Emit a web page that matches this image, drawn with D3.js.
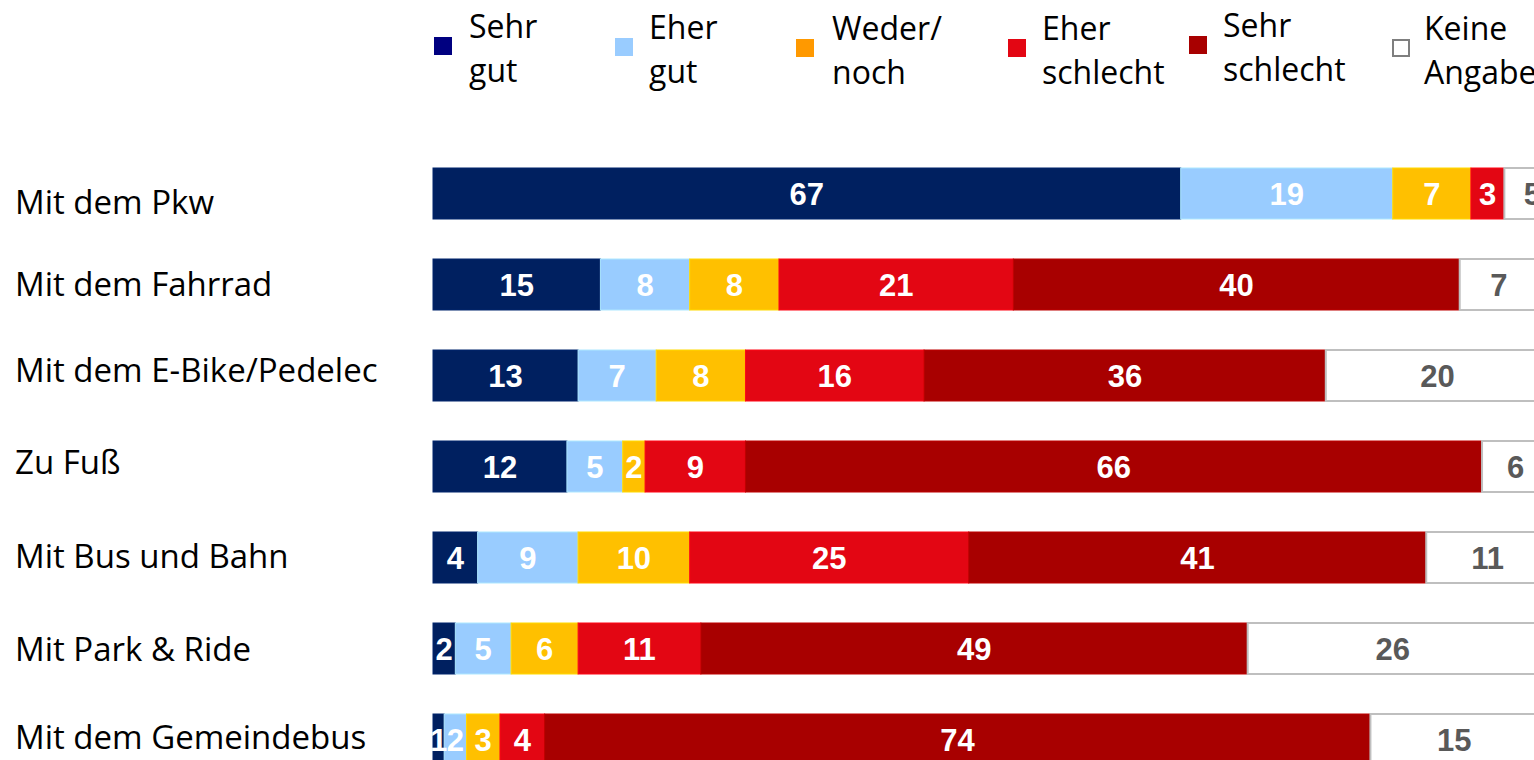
<!DOCTYPE html>
<html><head><meta charset="utf-8">
<script src="https://cdn.jsdelivr.net/npm/d3@7"></script>
<style>
html,body{margin:0;padding:0;background:#fff;overflow:hidden}
svg{display:block}
</style></head><body>
<svg id="chart" width="1534" height="760"></svg>
<script>
// ---- data ----
const categories = ["Mit dem Pkw","Mit dem Fahrrad","Mit dem E-Bike/Pedelec","Zu Fuß","Mit Bus und Bahn","Mit Park & Ride","Mit dem Gemeindebus"];
const seriesNames = ["Sehr gut","Eher gut","Weder/ noch","Eher schlecht","Sehr schlecht","Keine Angabe"];
const legendLines = [["Sehr","gut"],["Eher","gut"],["Weder/","noch"],["Eher","schlecht"],["Sehr","schlecht"],["Keine","Angabe"]];
const sehrGut      = [67,15,13,12,4,2,1];
const eherGut      = [19,8,7,5,9,5,2];
const wederNoch    = [7,8,8,2,10,6,3];
const eherSchlecht = [3,21,16,9,25,11,4];
const sehrSchlecht = [0,40,36,66,41,49,74];
const keineAngabe  = [5,7,20,6,11,26,15];
const series = [sehrGut,eherGut,wederNoch,eherSchlecht,sehrSchlecht,keineAngabe];

// ---- styles / layout ----
const barColors = ["#002060","#99CCFF","#FFC000","#E30613","#A80000","#FFFFFF"];
const legendColors = ["#000080","#99CCFF","#FF9900","#E30613","#A80000","#FFFFFF"];
const legendX = [434,615,796,1008,1189,1392];
const legendTextDx = [35,34,36,34,34,32];
const legendTop = [37,38,39,39,36,39];
const labelDy = [9,0,-5,-4,-1,1,-2];

const svg = d3.select("#chart");
const x = d3.scaleLinear().domain([0,100]).range([433,433+1116]);
const y = d3.scaleBand().domain(categories).range([168, 168 + 91*7 - 40]).paddingInner(40/91).paddingOuter(0);

const rows = categories.map((c,i)=>{
  let acc=0;
  return series.map((s,k)=>{const v=s[i]; const seg={cat:c,k,v,x0:acc,x1:acc+v}; acc+=v; return seg;});
});

const g = svg.append("g");
rows.forEach(row=>{
  const rg = g.append("g");
  rg.selectAll("rect").data(row.filter(d=>d.v>0)).join("rect")
    .attr("x",d=>x(d.x0)).attr("y",d=>y(d.cat))
    .attr("width",d=>x(d.x1)-x(d.x0)).attr("height",y.bandwidth())
    .attr("fill",d=>barColors[d.k])
    .attr("stroke",d=>d.k===5?"#BFBFBF":d3.color(barColors[d.k]).brighter(0.35))
    .attr("stroke-width",d=>d.k===5?2:1);
  rg.selectAll("text").data(row.filter(d=>d.v>0)).join("text")
    .attr("x",d=>(x(d.x0)+x(d.x1))/2)
    .attr("y",d=>y(d.cat)+y.bandwidth()/2)
    .attr("dy","0.36em")
    .attr("text-anchor","middle")
    .attr("font-family","'Liberation Sans', Arial, sans-serif")
    .attr("font-weight","bold").attr("font-size",31)
    .attr("fill",d=>d.k===5?"#595959":"#FFFFFF")
    .text(d=>d.v);
});

// category labels
svg.append("g").selectAll("text").data(categories).join("text")
  .attr("x",15)
  .attr("y",(d,i)=>y(d)+y.bandwidth()/2+labelDy[i])
  .attr("dy","0.36em")
  .attr("font-family","'Open Sans', sans-serif")
  .attr("font-size",33)
  .attr("fill","#000")
  .text(d=>d);

// legend
const lg = svg.append("g");
seriesNames.forEach((n,k)=>{
  const it = lg.append("g");
  it.append("rect").attr("x",legendX[k]+(k===5?1:0)).attr("y",legendTop[k]+(k===5?1:0))
    .attr("width",k===5?16:18).attr("height",k===5?16:18)
    .attr("fill",legendColors[k])
    .attr("stroke",k===5?"#7F7F7F":"none").attr("stroke-width",2);
  const t = it.append("text").attr("x",legendX[k]+legendTextDx[k]).attr("y",legendTop[k]+1)
    .attr("font-family","'Open Sans', sans-serif").attr("font-size",32).attr("fill","#000");
  legendLines[k].forEach((ln,j)=>t.append("tspan").attr("x",legendX[k]+legendTextDx[k]).attr("dy",j===0?0:44).text(ln));
});
</script>
</body></html>
